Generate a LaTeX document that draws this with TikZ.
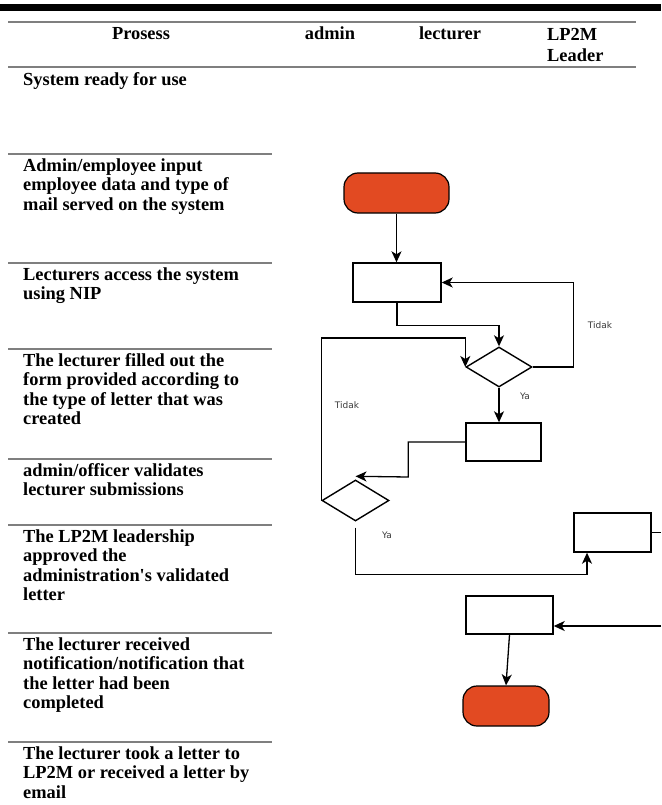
\documentclass[tikz,border=0pt]{standalone}
\usepackage{fontspec}
\setmainfont{Liberation Serif}
\newfontfamily\lblfont{DejaVu Sans}
\usetikzlibrary{arrows.meta,shapes.geometric,calc}
\definecolor{termfill}{HTML}{E24A22}
\definecolor{rulegray}{HTML}{7F7F7F}
\definecolor{lblgray}{HTML}{3A3A3A}
\begin{document}
\begin{tikzpicture}[x=1pt,y=-1pt,
  txt/.style={font=\fontsize{18.4}{19.5}\selectfont\bfseries, inner sep=0pt, align=left, anchor=north west},
  hdr/.style={font=\fontsize{18.4}{21}\selectfont\bfseries, inner sep=0pt, anchor=base},
  rowline/.style={draw=rulegray, line width=2pt},
  procbox/.style={draw, line width=1.4pt, rectangle, inner sep=0pt},
  term/.style={draw, line width=1.2pt, fill=termfill, rectangle, rounded corners=14pt, inner sep=0pt},
  decision/.style={draw, line width=1.4pt, diamond, inner sep=0pt, minimum width=66pt, minimum height=40pt},
  arr/.style={line width=1.3pt, -{Stealth[length=11pt,width=10pt,inset=3pt]}},
  plain/.style={line width=1.3pt},
  lbl/.style={font=\lblfont\fontsize{9}{10}\selectfont, text=lblgray, inner sep=0pt}
]
\useasboundingbox (0,0) rectangle (661,805);
% top rules
\fill (0,4.5) rectangle (661,11);
\draw[rowline] (8,22) -- (636,22);
\draw[rowline] (8,67) -- (636,67);
\foreach \yy in {154,263,349,459,525,633,742} \draw[rowline] (8,\yy) -- (272,\yy);
% header
\node[hdr] (hProsess) at (141,40) {Prosess};
\node[hdr] (hAdmin) at (330,40) {admin};
\node[hdr] (hLect) at (450,40) {lecturer};
\node[hdr, anchor=north west, align=left] (hLead) at (547,40-14.7) {\strut LP2M\\Leader};
% rows
\node[txt] (r1) at (23,85-13.65) {\strut System ready for use};
\node[txt] (r2) at (23,171-13.65) {\strut Admin/employee input\\employee data and type of\\mail served on the system};
\node[txt] (r3) at (23,280-13.65) {\strut Lecturers access the system\\using NIP};
\node[txt] (r4) at (23,366-13.65) {\strut The lecturer filled out the\\form provided according to\\the type of letter that was\\created};
\node[txt] (r5) at (23,476-13.65) {\strut admin/officer validates\\lecturer submissions};
\node[txt] (r6) at (23,542-13.65) {\strut The LP2M leadership\\approved the\\administration\textquotesingle s validated\\letter};
\node[txt] (r7) at (23,650-13.65) {\strut The lecturer received\\notification/notification that\\the letter had been\\completed};
\node[txt] (r8) at (23,759-13.65) {\strut The lecturer took a letter to\\LP2M or received a letter by\\email};
% flowchart nodes
\node[term, minimum width=105pt, minimum height=40pt] (start) at (396.5,193) {};
\node[procbox, minimum width=88pt, minimum height=39pt] (box1) at (397,282.5) {};
\node[decision] (d1) at (499,367) {};
\node[procbox, minimum width=75pt, minimum height=38pt] (box2) at (503.5,442) {};
\node[decision, minimum width=67pt, minimum height=41pt] (d2) at (355.5,500.5) {};
\node[procbox, minimum width=77pt, minimum height=39pt] (box3) at (612.5,532.5) {};
\node[procbox, minimum width=87pt, minimum height=38pt] (box4) at (509.5,615) {};
\node[term, minimum width=86pt, minimum height=40pt] (stop) at (506,706) {};
\coordinate (outA) at (661,532.5);
\coordinate (outB) at (661,626);
% connectors
\draw[arr] (start.south) -- (start.south |- box1.north);
\draw[arr] (box1.south) -- ++(0,23) -| (d1.north);
\draw[arr] (d1.east) -- ++(41,0) |- (box1.east);
\draw[arr] (d1.south) -- (d1.south |- box2.north);
\draw[arr] (box2.west) -- ++(-57,0) -- ++(0,35) -- ([yshift=3pt]d2.north);
\draw[arr] (d2.west) -- ++(0,-162.5) -| (d1.west);
\draw[arr] ([yshift=-6pt]d2.south) -- ++(0,47) -| ([xshift=-25.5pt]box3.south);
\draw[plain] (box3.east) -- (outA);
\draw[arr] (outB) -- ([yshift=-11pt]box4.east);
\draw[arr] (box4.south) -- (stop.north);
% labels
\node[lbl] (t1) at (600,325) {Tidak};
\node[lbl] (t2) at (347,405) {Tidak};
\node[lbl] (y1) at (525,396) {Ya};
\node[lbl] (y2) at (387,535) {Ya};
\end{tikzpicture}
\end{document}
